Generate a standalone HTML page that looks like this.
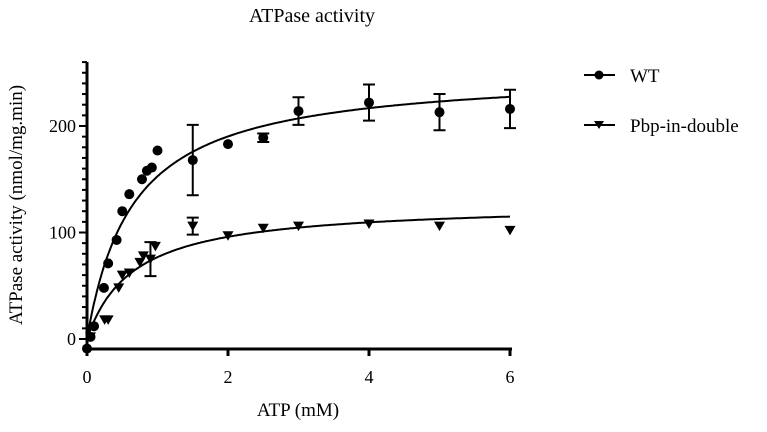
<!DOCTYPE html>
<html><head><meta charset="utf-8"><style>
body{margin:0;background:#fff}
svg text{font-family:"Liberation Serif",serif;fill:#000}
</style></head><body>
<svg id="chart" width="767" height="427" xmlns="http://www.w3.org/2000/svg">
<text x="312" y="22" font-size="20" text-anchor="middle">ATPase activity</text>
<text x="298" y="416" font-size="19" text-anchor="middle">ATP (mM)</text>
<text transform="translate(22,205) rotate(-90)" font-size="19" text-anchor="middle">ATPase activity (nmol/mg.min)</text>
<g id="axes"></g><g id="marks"></g>
<g>
<g><line x1="584" y1="75" x2="615" y2="75" stroke="#000" stroke-width="2"/><circle cx="599" cy="75" r="4.5"/><text x="630" y="82" font-size="19">WT</text></g>
<g><line x1="584" y1="125" x2="615" y2="125" stroke="#000" stroke-width="2"/><path d="M594,121 L604,121 L599,129 Z"/><text x="630" y="132" font-size="19">Pbp-in-double</text></g>
</g>
</svg>
<script>
const xTicks=[0,2,4,6];
const yTicks=[0,100,200];
const wtX=[0,0.05,0.1,0.24,0.3,0.42,0.5,0.6,0.78,0.85,0.92,1.0,1.5,2,2.5,3,4,5,6];
const wtY=[-9,2,12,48,71,93,120,136,150,158,161,177,168,183,189,214,222,213,216];
const wtErr=[0,0,0,0,0,0,0,0,0,0,0,0,33,0,4,13,17,17,18];
const pbpX=[0.05,0.25,0.3,0.45,0.5,0.6,0.75,0.8,0.9,0.97,1.5,2,2.5,3,4,5,6];
const pbpY=[2,18,18,48,60,62,72,78,75,87,106,97,104,106,108,106,102];
const pbpErr=[0,0,0,0,0,0,0,0,16,0,8,0,0,0,0,0,0];
const wtFit=[252,0.65];
const pbpFit=[127.6,0.66];
const X=v=>87+v*70.5, Y=v=>339-v*1.065;
const NS="http://www.w3.org/2000/svg";
const ax=document.getElementById('axes'), mk=document.getElementById('marks');
function el(t,a,p){const e=document.createElementNS(NS,t);for(const k in a)e.setAttribute(k,a[k]);p.appendChild(e);return e;}
let a=el('line',{x1:87,y1:62,x2:87,y2:350,stroke:'#000','stroke-width':3},ax);


a=el('line',{x1:85.5,y1:349,x2:512,y2:349,stroke:'#000','stroke-width':3},ax);


for(let v=0;v<=260;v+=10){el('line',{x1:v%100?82:79,y1:Y(v),x2:87,y2:Y(v),stroke:'#000','stroke-width':2},ax);}
yTicks.forEach(v=>{const t=el('text',{x:76,y:Y(v)+6,'font-size':18,'text-anchor':'end'},ax);t.textContent=v;

});
xTicks.forEach(v=>{el('line',{x1:X(v),y1:349,x2:X(v),y2:356,stroke:'#000','stroke-width':3},ax);
const t=el('text',{x:X(v),y:383,'font-size':18,'text-anchor':'middle'},ax);t.textContent=v;

});
function fit(p,name){let d='';for(let i=0;i<=300;i++){const x=6*i/300;d+=(i?'L':'M')+X(x).toFixed(1)+','+Y(p[0]*x/(x+p[1])).toFixed(1);}
const e=el('path',{d:d,fill:'none',stroke:'#000','stroke-width':2},mk);

}
fit(wtFit,'wt-fit-curve');fit(pbpFit,'pbp-fit-curve');
function err(x,y,e){if(!e)return;const cx=X(x);el('path',{d:`M${cx},${Y(y-e)}V${Y(y+e)}M${cx-6},${Y(y-e)}h12M${cx-6},${Y(y+e)}h12`,stroke:'#000','stroke-width':2,fill:'none'},mk);}
wtX.forEach((x,i)=>{err(x,wtY[i],wtErr[i]);const c=el('circle',{cx:X(x),cy:Y(wtY[i]),r:5},mk);

});
pbpX.forEach((x,i)=>{err(x,pbpY[i],pbpErr[i]);const cx=X(x),cy=Y(pbpY[i]);const p=el('path',{d:`M${cx-5.5},${cy-4.5}L${cx+5.5},${cy-4.5}L${cx},${cy+5}Z`},mk);

});
</script>
</body></html>
